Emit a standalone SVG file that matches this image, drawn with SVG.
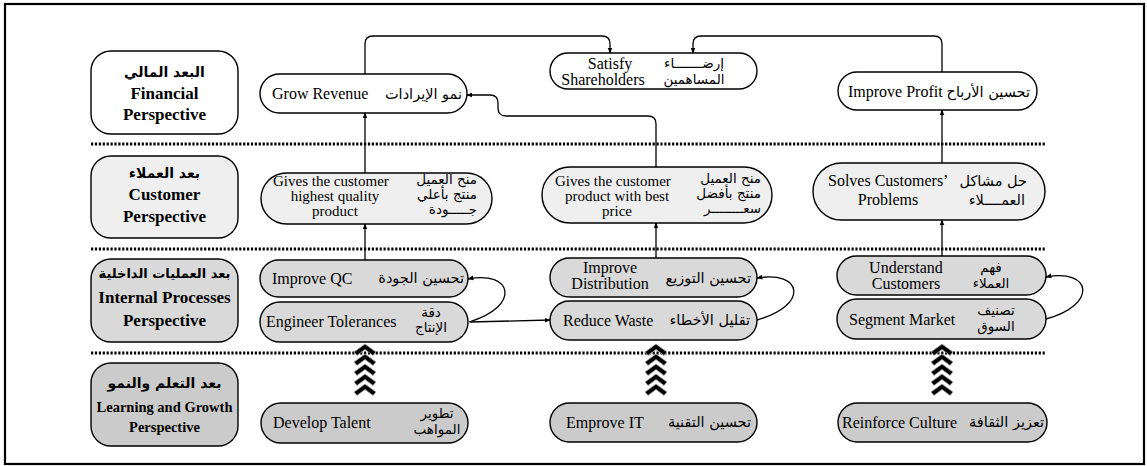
<svg xmlns="http://www.w3.org/2000/svg" width="1147" height="466" viewBox="0 0 1147 466">
<defs>
<style>
.en{font-family:"Liberation Serif","Times New Roman",serif;font-size:16px;fill:#000}
.sm{font-size:15px}
.ar{font-family:"DejaVu Sans","Noto Sans",sans-serif;font-size:14.5px;fill:#000}
.as{font-size:13.5px}
.lb{font-family:"Liberation Serif","Times New Roman",serif;font-size:17px;font-weight:bold;fill:#000;text-anchor:middle}
.lba{font-family:"DejaVu Sans",sans-serif;font-size:14px;font-weight:bold;fill:#000;text-anchor:middle}
.box{stroke:#000;stroke-width:1.4}
.w{fill:#fff}.c{fill:#efefef}.i{fill:#d9d9d9}.l{fill:#cbcbcb}
.sep{stroke:#000;stroke-width:3;stroke-dasharray:2.2 1.7;fill:none}
.con{stroke:#000;stroke-width:1.3;fill:none}
.chev{fill:#000;stroke:#aaa;stroke-width:0.8}
.m{text-anchor:middle}.e{text-anchor:end}
</style>
<marker id="ah" viewBox="0 0 10 10" refX="9" refY="5" markerWidth="6" markerHeight="6" orient="auto" markerUnits="userSpaceOnUse">
<path d="M0,1 L10,5 L0,9 z" fill="#000"/>
</marker>
<polygon id="chv" class="chev" points="0,0 11,8 8,11.5 0,5.5 -8,11.5 -11,8"/>
</defs>
<rect x="5" y="4" width="1139" height="460" fill="#fff" stroke="#000" stroke-width="2.2"/>

<g id="separators">
<line class="sep" x1="91" y1="144" x2="1045" y2="144"/>
<line class="sep" x1="91" y1="249" x2="1045" y2="249"/>
<line class="sep" x1="91" y1="353" x2="1045" y2="353"/>
</g>

<g id="label-financial">
<rect class="box w" x="91" y="51" width="147" height="83" rx="20"/>
<text class="lba" x="164.5" y="77">البعد المالي</text>
<text class="lb" x="164.5" y="99">Financial</text>
<text class="lb" x="164.5" y="120">Perspective</text>
</g>
<g id="label-customer">
<rect class="box c" x="91" y="156" width="147" height="82" rx="20"/>
<text class="lba" x="164.5" y="178">بعد العملاء</text>
<text class="lb" x="164.5" y="200">Customer</text>
<text class="lb" x="164.5" y="222">Perspective</text>
</g>
<g id="label-internal">
<rect class="box i" x="91" y="259" width="147" height="83" rx="20"/>
<text class="lba" x="164.5" y="278" style="font-size:13px">بعد العمليات الداخلية</text>
<text class="lb" x="164.5" y="303">Internal Processes</text>
<text class="lb" x="164.5" y="326">Perspective</text>
</g>
<g id="label-learning">
<rect class="box l" x="91" y="363" width="147" height="83" rx="20"/>
<text class="lba" x="164.5" y="388">بعد التعلم والنمو</text>
<text class="lb" x="164.5" y="412" style="font-size:14.5px">Learning and Growth</text>
<text class="lb" x="164.5" y="432" style="font-size:14.5px">Perspective</text>
</g>

<g id="connectors">
<path class="con" d="M365,74 V44 Q365,36 373,36 H602 Q610,36 610,44 V53" marker-end="url(#ah)"/>
<path class="con" d="M942,72 V44 Q942,36 934,36 H701 Q693,36 693,44 V53" marker-end="url(#ah)"/>
<path class="con" d="M656,167 V124 Q656,116 648,116 H506 Q498,116 498,108 V103 Q498,95 490,95 H467" marker-end="url(#ah)"/>
<path class="con" d="M365,173 V113" marker-end="url(#ah)"/>
<path class="con" d="M942,163 V110" marker-end="url(#ah)"/>
<path class="con" d="M365,260 V224" marker-end="url(#ah)"/>
<path class="con" d="M656,258 V223" marker-end="url(#ah)"/>
<path class="con" d="M942,256 V220" marker-end="url(#ah)"/>
<path class="con" d="M469,322 C522,306 512,270 468,279" marker-end="url(#ah)"/>
<path class="con" d="M470,322 L550,320" marker-end="url(#ah)"/>
<path class="con" d="M757,320 C810,305 802,270 757,278" marker-end="url(#ah)"/>
<path class="con" d="M1046,319 C1098,305 1092,268 1046,277" marker-end="url(#ah)"/>
<use href="#chv" x="365" y="344"/><use href="#chv" x="365" y="354"/><use href="#chv" x="365" y="364"/><use href="#chv" x="365" y="374"/><use href="#chv" x="365" y="384"/>
<use href="#chv" x="656" y="344"/><use href="#chv" x="656" y="354"/><use href="#chv" x="656" y="364"/><use href="#chv" x="656" y="374"/><use href="#chv" x="656" y="384"/>
<use href="#chv" x="942" y="344"/><use href="#chv" x="942" y="354"/><use href="#chv" x="942" y="364"/><use href="#chv" x="942" y="374"/><use href="#chv" x="942" y="384"/>
</g>

<g id="grow-revenue">
<rect class="box w" x="260" y="74" width="207" height="39" rx="19.5"/>
<text class="en" x="272" y="99">Grow Revenue</text>
<text class="ar e" x="462" y="99">نمو الإيرادات</text>
</g>
<g id="satisfy-shareholders">
<rect class="box w" x="550" y="53" width="207" height="36" rx="18"/>
<text class="en m" x="610" y="69">Satisfy</text>
<text class="en m" x="603" y="85">Shareholders</text>
<text class="ar as m" x="694" y="68">إرضـــــــاء</text>
<text class="ar as m" x="694" y="84">المساهمين</text>
</g>
<g id="improve-profit">
<rect class="box w" x="838" y="72" width="199" height="38" rx="19"/>
<text class="en" x="848" y="97">Improve Profit</text>
<text class="ar e" x="1030" y="97">تحسين الأرباح</text>
</g>

<g id="gives-quality">
<rect class="box c" x="261" y="173" width="231" height="51" rx="25.5"/>
<text class="en sm" x="273" y="186">Gives the customer</text>
<text class="en sm m" x="335" y="201">highest quality</text>
<text class="en sm m" x="335" y="216">product</text>
<text class="ar as e" x="477" y="184">منح العميل</text>
<text class="ar as e" x="477" y="199">منتج بأعلي</text>
<text class="ar as e" x="477" y="214">جـــــودة</text>
</g>
<g id="gives-price">
<rect class="box c" x="542" y="167" width="230" height="56" rx="28"/>
<text class="en sm" x="555" y="186">Gives the customer</text>
<text class="en sm m" x="617" y="201">product with best</text>
<text class="en sm m" x="617" y="216">price</text>
<text class="ar as e" x="761" y="183">منح العميل</text>
<text class="ar as e" x="761" y="198">منتج بأفضل</text>
<text class="ar as e" x="761" y="213">سعــــــــر</text>
</g>
<g id="solves-problems">
<rect class="box c" x="813" y="163" width="232" height="57" rx="28.5"/>
<text class="en" x="828" y="186">Solves Customers’</text>
<text class="en m" x="888" y="205">Problems</text>
<text class="ar e" x="1027" y="186">حل مشاكل</text>
<text class="ar e" x="1025" y="205">العمــــلاء</text>
</g>

<g id="improve-qc">
<rect class="box i" x="260" y="260" width="208" height="37" rx="18.5"/>
<text class="en" x="272" y="284">Improve QC</text>
<text class="ar e" x="464" y="283">تحسين الجودة</text>
</g>
<g id="engineer-tolerances">
<rect class="box i" x="260" y="302" width="208" height="40" rx="20"/>
<text class="en" x="266" y="327">Engineer Tolerances</text>
<text class="ar as m" x="431" y="317">دقة</text>
<text class="ar as m" x="431" y="332">الإنتاج</text>
</g>
<g id="improve-distribution">
<rect class="box i" x="550" y="258" width="207" height="39" rx="19.5"/>
<text class="en m" x="610" y="273">Improve</text>
<text class="en m" x="610" y="289">Distribution</text>
<text class="ar e" x="751" y="283">تحسين التوزيع</text>
</g>
<g id="reduce-waste">
<rect class="box i" x="550" y="301" width="207" height="39" rx="19.5"/>
<text class="en" x="563" y="326">Reduce Waste</text>
<text class="ar e" x="750" y="325">تقليل الأخطاء</text>
</g>
<g id="understand-customers">
<rect class="box i" x="837" y="256" width="209" height="39" rx="19.5"/>
<text class="en m" x="906" y="273">Understand</text>
<text class="en m" x="906" y="289">Customers</text>
<text class="ar as m" x="991" y="272">فهم</text>
<text class="ar as m" x="991" y="288">العملاء</text>
</g>
<g id="segment-market">
<rect class="box i" x="837" y="299" width="209" height="40" rx="20"/>
<text class="en" x="849" y="325">Segment Market</text>
<text class="ar as m" x="996" y="315">تصنيف</text>
<text class="ar as m" x="996" y="331">السوق</text>
</g>

<g id="develop-talent">
<rect class="box l" x="261" y="403" width="207" height="40" rx="20"/>
<text class="en" x="273" y="428">Develop Talent</text>
<text class="ar as m" x="437" y="418">تطوير</text>
<text class="ar as m" x="437" y="434">المواهب</text>
</g>
<g id="emprove-it">
<rect class="box l" x="550" y="403" width="207" height="39" rx="19.5"/>
<text class="en" x="566" y="428">Emprove IT</text>
<text class="ar e" x="751" y="427">تحسين التقنية</text>
</g>
<g id="reinforce-culture">
<rect class="box l" x="838" y="403" width="209" height="39" rx="19.5"/>
<text class="en" x="842" y="428">Reinforce Culture</text>
<text class="ar e" x="1044" y="427">تعزيز الثقافة</text>
</g>
</svg>
